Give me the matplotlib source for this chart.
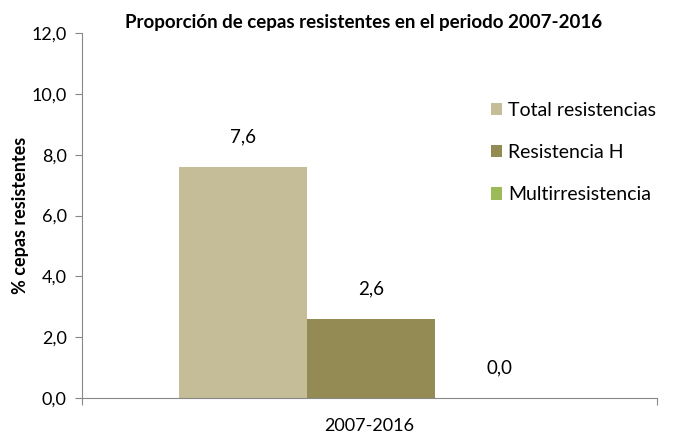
import matplotlib.pyplot as plt

plt.rcParams['font.family'] = ['Lato', 'DejaVu Sans']

periodo = ['2007-2016']
series = ['Total resistencias', 'Resistencia H', 'Multirresistencia']
valores = [7.6, 2.6, 0.0]
colores = ['#C4BD97', '#948A54', '#9BBB59']

fig = plt.figure(figsize=(6.75, 4.36), dpi=100)
ax = fig.add_axes([0.1215, 0.087, 0.852, 0.837])

w = 0.2226
for i, (s, v, c) in enumerate(zip(series, valores, colores)):
    x = (i - 1) * w + 0.003
    ax.bar(x, v, width=w, color=c, label=s)
    ax.text(x, v + 0.7, f'{v:.1f}'.replace('.', ','), ha='center', va='bottom', fontsize=13.5)

ax.set_xlim(-0.5, 0.5)
ax.set_ylim(0, 12)
ax.set_yticks([0, 2, 4, 6, 8, 10, 12])
ax.set_yticklabels([f'{t:.1f}'.replace('.', ',') for t in [0, 2, 4, 6, 8, 10, 12]], fontsize=13)
ax.set_xticks([-0.5, 0.5])
ax.set_xticklabels(['', ''])
ax.text(0, -0.65, periodo[0], ha='center', va='top', fontsize=13)
ax.tick_params(axis='y', length=5, color='#888888', pad=6)
ax.tick_params(axis='x', length=5, color='#888888')
for sp in ['top', 'right']:
    ax.spines[sp].set_visible(False)
for sp in ['left', 'bottom']:
    ax.spines[sp].set_color('#888888')

ax.set_ylabel('% cepas resistentes', fontsize=13, fontweight='bold', labelpad=2)
ax.set_title('Proporción de cepas resistentes en el periodo 2007-2016',
             fontsize=13.5, fontweight='bold', x=0.49, y=0.99)

ax.legend(loc='upper left', bbox_to_anchor=(0.68, 0.86), frameon=False, fontsize=14,
          handlelength=0.6, handleheight=0.6, handletextpad=0.3, labelspacing=1.3)

fig.savefig('out.png', dpi=100)
